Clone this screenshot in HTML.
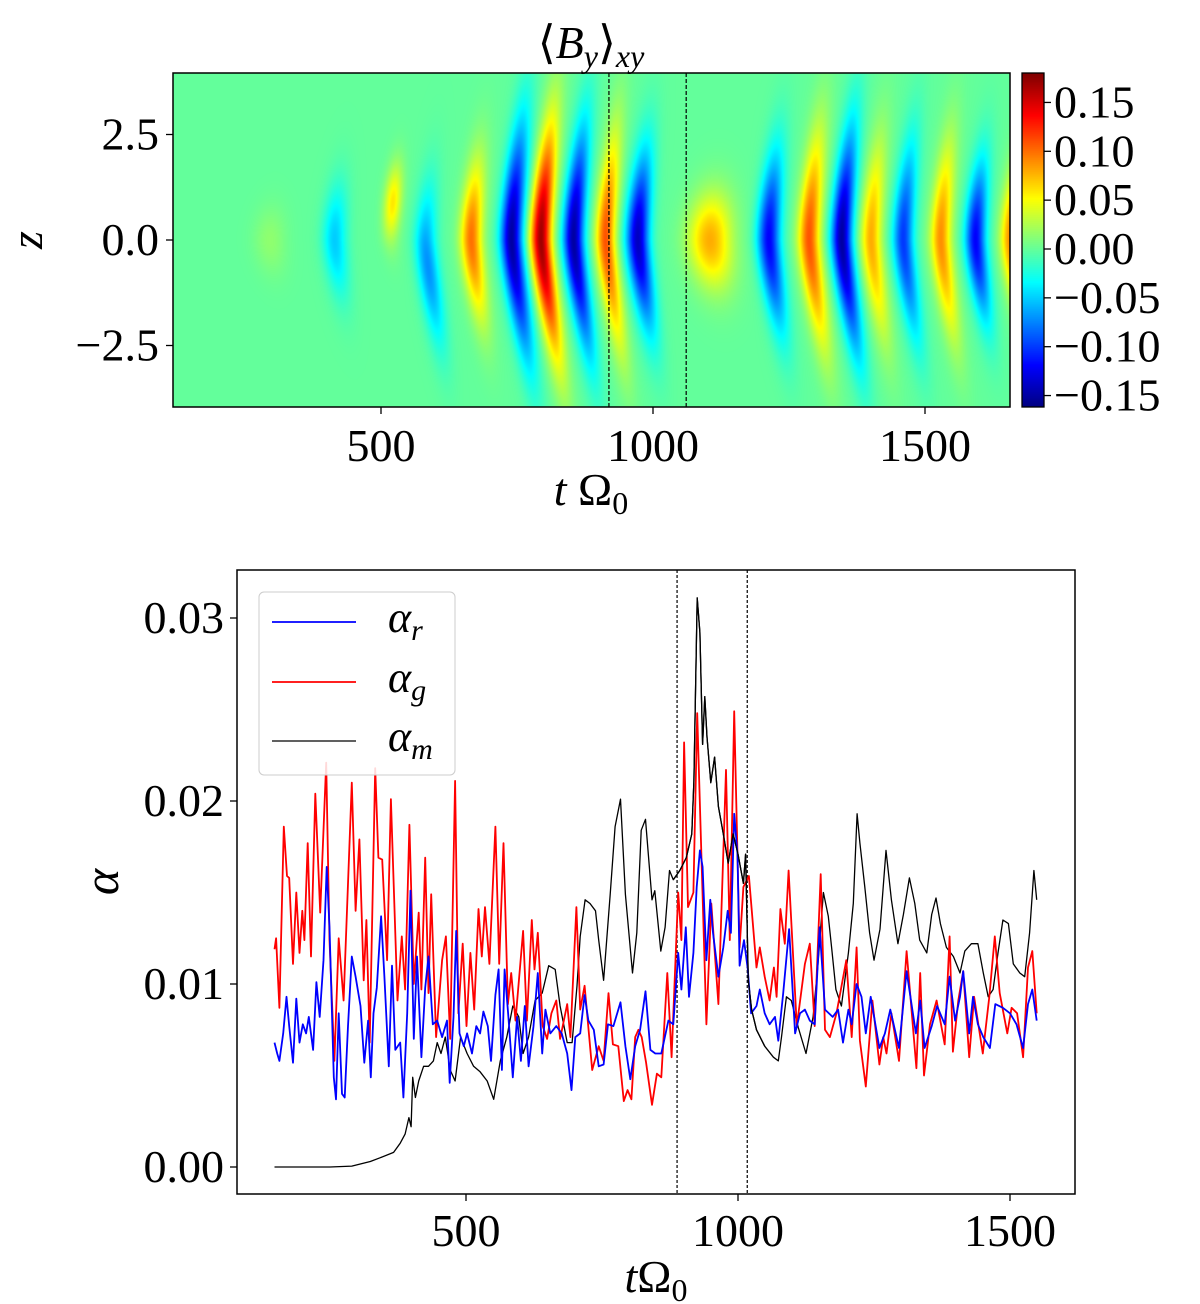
<!DOCTYPE html>
<html><head><meta charset="utf-8">
<style>
html,body{margin:0;padding:0;background:#fff;}
#wrap{position:relative;width:1200px;height:1304px;overflow:hidden;}
canvas,svg{position:absolute;left:0;top:0;}
text{font-family:"Liberation Serif",serif;fill:#000;}
</style></head>
<body>
<div id="wrap">
<canvas id="hm" width="1200" height="1304"></canvas>
<svg id="sv" width="1200" height="1304" xmlns="http://www.w3.org/2000/svg"></svg>
</div>
<script>
// ---------- Heatmap data: wave bands ----------
const bandT   = [295, 414, 517, 581, 665, 739, 793, 853, 912, 971, 1104, 1212, 1286, 1346, 1400, 1459, 1528, 1592, 1656];
const bandAmp = [0.015,-0.05,0.06,-0.07,0.10,-0.15,0.17,-0.15,0.11,-0.14,0.08,-0.12,0.11,-0.15,0.08,-0.10,0.09,-0.12,0.09];
const bandZ0  = [0, 0, 0.9, -0.6, 0, 0, 0, 0, 0, 0, 0, 0, 0, 0, 0, 0, 0, 0, 0];
const bandH   = [0.8, 1.3, 0.9, 1.8, 1.8, 2.6, 2.6, 2.5, 2.4, 2.0, 1.1, 2.0, 2.4, 2.5, 2.2, 2.2, 2.2, 1.8, 1.7];
const bandW   = [30, 22, 16, 20, 20, 20, 19, 19, 18, 21, 40, 21, 20, 19, 19, 19, 19, 19, 18];
const cbTicks = [-0.15,-0.10,-0.05,0.00,0.05,0.10,0.15];
const topXTicks = [500,1000,1500];
const topYTicks = [-2.5,0.0,2.5];
const topDashed = [919, 1061];

// ---------- Line chart data ----------
const tRed = [148,151,157,165,171,175,182,188,194,199,203,209,215,223,232,243,249,258,266,275,290,297,304,312,317,323,333,339,346,355,362,374,382,388,396,404,413,418,425,431,436,445,456,463,471,480,486,494,501,508,515,523,529,535,543,554,561,569,577,583,591,605,612,621,626,632,641,649,657,666,673,686,692,703,710,718,732,744,753,762,770,780,790,797,804,811,817,823,831,842,851,859,870,878,890,896,901,908,918,925,942,951,964,978,985,993,1003,1010,1020,1034,1040,1049,1058,1066,1071,1078,1086,1093,1108,1123,1132,1141,1152,1160,1169,1181,1199,1209,1218,1224,1235,1247,1260,1267,1273,1282,1296,1310,1328,1335,1342,1353,1365,1380,1389,1395,1405,1414,1425,1434,1450,1462,1472,1481,1495,1503,1513,1524,1533,1541,1549];
const vRed = [11.9,12.5,8.7,18.6,15.9,15.8,11.1,15.0,11.7,14.0,12.4,17.7,11.5,20.4,13.9,22.1,12.4,5.8,12.5,9.1,21.0,14.0,17.9,10.2,13.5,6.8,21.8,16.9,16.8,11.3,20.1,9.1,12.6,9.7,18.7,10.0,13.9,9.7,16.9,9.5,14.9,7.1,11.3,12.6,7.0,21.1,8.4,12.2,7.7,11.7,8.6,14.1,11.5,14.2,11.1,18.6,11.1,17.7,8.9,10.6,8.0,12.9,8.0,13.5,10.8,12.8,7.7,7.0,8.4,9.1,7.0,8.9,7.1,14.2,8.6,9.9,5.3,6.6,5.8,9.5,6.7,6.6,3.6,4.2,3.7,7.1,7.5,7.1,5.7,3.4,5.1,4.9,10.6,6.0,15.0,12.4,23.2,14.2,15.0,24.8,7.8,14.4,8.9,21.7,12.4,24.9,12.0,15.3,15.9,10.9,12.0,10.4,9.1,10.9,9.3,14.1,12.2,16.2,7.7,11.1,12.2,7.7,16.0,7.5,7.1,8.4,11.3,7.1,12.0,6.9,4.4,9.1,5.6,7.1,6.2,8.4,5.8,11.8,5.4,10.6,5.0,7.8,9.1,6.7,12.6,6.3,9.1,10.7,6.0,9.3,6.2,9.3,12.6,9.5,7.3,8.7,8.4,6.0,10.9,11.8,8.4];
const tBlue = [148,153,157,164,170,175,182,188,194,200,206,211,219,225,231,238,244,249,257,261,266,272,277,283,290,297,306,313,320,325,330,336,344,350,358,364,370,379,385,392,398,404,410,418,425,431,439,447,456,465,470,477,482,488,496,502,511,519,526,532,540,546,554,560,566,571,578,586,594,601,608,615,624,632,640,646,655,666,676,686,694,701,710,718,725,735,744,753,761,771,784,793,802,811,820,830,839,848,859,872,881,890,896,904,910,918,924,930,935,942,949,954,964,973,981,987,993,999,1003,1011,1018,1024,1034,1040,1049,1058,1068,1074,1083,1094,1105,1114,1123,1132,1141,1150,1160,1174,1184,1193,1203,1209,1218,1227,1235,1244,1260,1270,1280,1296,1310,1327,1335,1343,1356,1366,1380,1389,1399,1408,1414,1425,1432,1441,1451,1463,1473,1487,1500,1512,1524,1533,1541,1549];
const vBlue = [6.8,6.2,5.8,7.3,9.3,7.7,5.7,9.2,6.8,7.8,7.3,8.2,6.4,10.1,8.2,11.3,16.4,13.1,4.9,3.7,8.4,4.0,3.8,7.7,11.5,10.4,8.8,5.7,8.0,4.9,8.4,9.8,13.7,10.4,5.5,11.0,6.4,6.8,3.8,8.4,15.1,7.0,11.5,6.0,9.8,11.5,7.8,8.0,7.1,8.0,4.6,8.2,12.9,7.3,6.6,7.3,6.2,7.7,7.3,8.5,7.7,5.8,9.4,10.8,5.3,10.8,8.2,4.9,8.2,5.8,8.8,5.5,7.7,10.6,6.2,8.6,7.3,7.7,7.3,6.2,4.2,7.1,7.3,9.4,8.0,7.5,5.5,5.6,7.8,7.7,9.0,6.6,4.8,6.6,7.5,9.6,6.4,6.2,6.2,8.0,7.8,11.7,9.7,13.1,9.3,11.7,15.3,17.3,16.4,11.3,14.6,12.8,10.4,12.0,14.0,12.8,19.3,17.1,11.0,12.4,10.8,8.4,8.8,9.7,8.4,7.8,8.2,6.9,9.5,13.0,7.3,8.4,8.6,8.0,7.8,13.1,8.6,8.2,8.6,6.8,8.6,7.8,10.0,9.3,7.3,9.3,6.5,7.3,8.6,6.5,10.7,7.3,9.1,6.5,7.7,8.8,7.8,10.4,8.0,9.3,10.7,7.3,9.3,7.8,7.1,6.5,8.9,8.7,8.4,7.8,6.5,8.9,9.7,8.0];
const tBlack = [148,200,250,290,324,342,367,379,388,395,399,402,407,413,422,431,440,447,454,462,471,480,490,502,514,526,539,551,563,575,586,597,605,615,627,640,652,664,673,686,695,704,710,719,728,738,744,753,765,774,784,793,806,814,822,830,842,847,858,866,874,881,893,905,915,919,925,930,935,939,943,950,957,964,973,982,991,1000,1010,1014,1019,1025,1034,1049,1065,1074,1080,1089,1098,1111,1125,1138,1147,1157,1166,1172,1180,1190,1203,1212,1219,1224,1233,1242,1250,1261,1272,1282,1294,1304,1315,1325,1334,1347,1356,1364,1372,1383,1396,1408,1417,1429,1441,1451,1460,1469,1478,1487,1497,1506,1518,1527,1536,1544,1549];
const vBlack = [0,0,0,0.05,0.3,0.5,0.8,1.3,1.8,2.7,2.2,4.9,3.8,4.7,5.5,5.5,5.8,6.8,6.2,7.1,5.3,4.7,7.1,6.2,5.5,5.2,4.7,3.7,5.8,7.1,8.8,8.2,6.2,7.1,9.1,9.5,11.0,10.8,8.8,6.8,6.8,9.9,12.6,14.6,14.4,14.0,12.4,10.2,14.9,18.6,20.1,14.9,10.6,12.8,18.4,19.0,14.6,15.1,11.8,13.1,16.2,15.7,16.2,16.9,18.2,21.1,31.1,29.2,23.1,25.7,23.5,21.0,22.4,19.7,18.2,16.6,18.2,17.1,15.5,17.1,10.2,8.6,7.5,6.6,6.0,5.8,7.1,9.3,9.1,7.6,6.2,8.2,11.1,15.0,13.7,12.0,9.7,8.8,11.7,14.4,19.3,17.7,15.3,12.8,11.3,13.0,17.3,14.6,12.2,13.8,15.8,14.4,12.4,11.7,13.8,14.7,13.3,12.0,11.5,10.6,11.8,12.2,12.2,10.6,9.3,9.7,11.7,13.5,13.3,11.1,10.6,10.4,12.8,16.2,14.6];
const botXTicks = [500,1000,1500];
const botYTicks = [0.00,0.01,0.02,0.03];
const botDashed = [888, 1017];

// ---------- geometry ----------
const T = {x0:173,x1:1010,y0:73,y1:407};
const tx = t => 381 + (t-500)*0.544;
const tz = z => 240 - z*42.2;
const CB = {x0:1022,x1:1044,y0:73,y1:407, vmin:-0.162, vmax:0.181};
const cby = v => 249 - v*977;
const B = {x0:237,x1:1075,y0:570,y1:1194};
const bx = t => 466 + (t-500)*0.544;
const by = v => 1167 - v*18300;

function jet(v){
  const f = x => Math.max(0,Math.min(1,x));
  const r = f(1.5 - Math.abs(4*v-3)), g = f(1.5 - Math.abs(4*v-2)), b = f(1.5 - Math.abs(4*v-1));
  return [r*255|0,g*255|0,b*255|0];
}
function field(t,z){
  let s=0;
  const az=Math.sqrt(z*z+0.6);
  for(let k=0;k<bandT.length;k++){
    const dz=z-bandZ0[k];
    const c=bandT[k]+9*(az-0.77)+4*Math.max(0,-z);
    const d=(t-c)/bandW[k];
    const hz=dz/bandH[k];
    s+=bandAmp[k]*Math.exp(-d*d)*Math.exp(-hz*hz);
  }
  return s;
}
const cv=document.getElementById('hm'), ctx=cv.getContext('2d');
const w=T.x1-T.x0, h=T.y1-T.y0;
const img=ctx.createImageData(w,h);
for(let j=0;j<h;j++){
  const z=(240-(T.y0+j))/42.2;
  for(let i=0;i<w;i++){
    const t=500+((T.x0+i)-381)/0.544;
    const v=field(t,z);
    const c=jet((v-CB.vmin)/(CB.vmax-CB.vmin));
    const p=(j*w+i)*4; img.data[p]=c[0];img.data[p+1]=c[1];img.data[p+2]=c[2];img.data[p+3]=255;
  }
}
ctx.putImageData(img,T.x0,T.y0);
for(let j=CB.y0;j<CB.y1;j++){
  const v=CB.vmax-(j-CB.y0)/(CB.y1-CB.y0)*(CB.vmax-CB.vmin);
  const c=jet((v-CB.vmin)/(CB.vmax-CB.vmin));
  ctx.fillStyle=`rgb(${c[0]},${c[1]},${c[2]})`; ctx.fillRect(CB.x0,j,CB.x1-CB.x0,1);
}

// ---------- SVG ----------
const sv=document.getElementById('sv'), NS='http://www.w3.org/2000/svg';
function mk(tag,attrs,parent){const e=document.createElementNS(NS,tag);for(const k in attrs)e.setAttribute(k,attrs[k]);(parent||sv).appendChild(e);return e;}
function txt(s,x,y,size,anchor,parent){const e=mk('text',{x:x,y:y,'font-size':size,'text-anchor':anchor||'middle'},parent);e.textContent=s;return e;}
const FS=46;

// top panel
const gTop=mk('g',{});


topDashed.forEach(t=>{const l=mk('line',{x1:tx(t),x2:tx(t),y1:T.y0,y2:T.y1,stroke:'#000','stroke-width':1.2,'stroke-dasharray':'4,2'},gTop);
 });
const fr=mk('rect',{x:T.x0,y:T.y0,width:w,height:h,fill:'none',stroke:'#000','stroke-width':1.5},gTop);

topXTicks.forEach(t=>{mk('line',{x1:tx(t),x2:tx(t),y1:T.y1,y2:T.y1+7,stroke:'#000','stroke-width':1.3},gTop);
 const e=txt(String(t),tx(t),T.y1+54,FS,'middle',gTop);});
topYTicks.forEach(z=>{mk('line',{x1:T.x0-7,x2:T.x0,y1:tz(z),y2:tz(z),stroke:'#000','stroke-width':1.3},gTop);
 const e=txt((z<0?'\u2212':'')+Math.abs(z).toFixed(1),T.x0-14,tz(z)+15,FS,'end',gTop);});
const cbf=mk('rect',{x:CB.x0,y:CB.y0,width:CB.x1-CB.x0,height:CB.y1-CB.y0,fill:'none',stroke:'#000','stroke-width':1.3},gTop);

cbTicks.forEach(v=>{mk('line',{x1:CB.x1,x2:CB.x1+7,y1:cby(v),y2:cby(v),stroke:'#000','stroke-width':1.3},gTop);
 const e=txt((v<0?'\u2212':'')+Math.abs(v).toFixed(2),CB.x1+10,cby(v)+15,FS,'start',gTop);});
let e=mk('text',{x:591,y:58,'font-size':46,'text-anchor':'middle'},gTop);
e.innerHTML='\u27E8<tspan font-style="italic">B</tspan><tspan font-style="italic" font-size="32" dy="9">y</tspan><tspan dy="-9">\u27E9</tspan><tspan font-style="italic" font-size="32" dy="9">xy</tspan>';

e=mk('text',{x:591,y:505,'font-size':46,'text-anchor':'middle'},gTop);
e.innerHTML='<tspan font-style="italic">t</tspan> \u03A9<tspan font-size="32" dy="9">0</tspan>';

e=mk('text',{x:42,y:240,'font-size':46,'text-anchor':'middle','font-style':'italic',transform:'rotate(-90 42 240)'},gTop);
e.textContent='z';

// bottom panel
const gB=mk('g',{});


const bf=mk('rect',{x:B.x0,y:B.y0,width:B.x1-B.x0,height:B.y1-B.y0,fill:'none',stroke:'#000','stroke-width':1.5},gB);

botDashed.forEach(t=>{const l=mk('line',{x1:bx(t),x2:bx(t),y1:B.y0,y2:B.y1,stroke:'#000','stroke-width':1.2,'stroke-dasharray':'3,2'},gB);
 });
botXTicks.forEach(t=>{mk('line',{x1:bx(t),x2:bx(t),y1:B.y1,y2:B.y1+7,stroke:'#000','stroke-width':1.3},gB);
 const e=txt(String(t),bx(t),B.y1+52,FS,'middle',gB);});
botYTicks.forEach(v=>{mk('line',{x1:B.x0-7,x2:B.x0,y1:by(v),y2:by(v),stroke:'#000','stroke-width':1.3},gB);
 const e=txt(v.toFixed(2),B.x0-13,by(v)+15,FS,'end',gB);});
function series(ts,vs,color,width,name){
  const d=ts.map((t,i)=>(i?'L':'M')+bx(t).toFixed(1)+','+by(vs[i]/1000).toFixed(1)).join('');
  const p=mk('path',{d:d,fill:'none',stroke:color,'stroke-width':width,'stroke-linejoin':'round'},gB);
  
  
}
series(tBlack,vBlack,'#000',1.3,'series-alpha-m');
series(tRed,vRed,'#ff0000',1.8,'series-alpha-g');
series(tBlue,vBlue,'#0000ff',1.8,'series-alpha-r');
series(tBlack.filter(t=>t>880&&t<1060),vBlack.filter((v,i)=>tBlack[i]>880&&tBlack[i]<1060),'#000',1.3,'series-alpha-m-overlay');
// legend
const lg=mk('g',{},gB);


mk('rect',{x:259,y:592,width:196,height:183,rx:5,fill:'#fff','fill-opacity':0.85,stroke:'#ccc','stroke-width':1},lg);
[['#0000ff','r',622],['#ff0000','g',682],['#000','m',741]].forEach(([c,s,y])=>{
  const l=mk('line',{x1:272,x2:356,y1:y,y2:y,stroke:c,'stroke-width':c==='#000'?1.3:1.8},lg);
  
  const t=mk('text',{x:388,y:y+10,'font-size':44,'font-style':'italic'},lg);
  t.innerHTML='\u03B1<tspan font-size="30" dy="8">'+s+'</tspan>';
  
});
e=mk('text',{x:656,y:1292,'font-size':46,'text-anchor':'middle'},gB);
e.innerHTML='<tspan font-style="italic">t</tspan>\u03A9<tspan font-size="32" dy="9">0</tspan>';

e=mk('text',{x:118,y:882,'font-size':50,'text-anchor':'middle','font-style':'italic',transform:'rotate(-90 118 882)'},gB);
e.textContent='\u03B1';
</script>
</body></html>
